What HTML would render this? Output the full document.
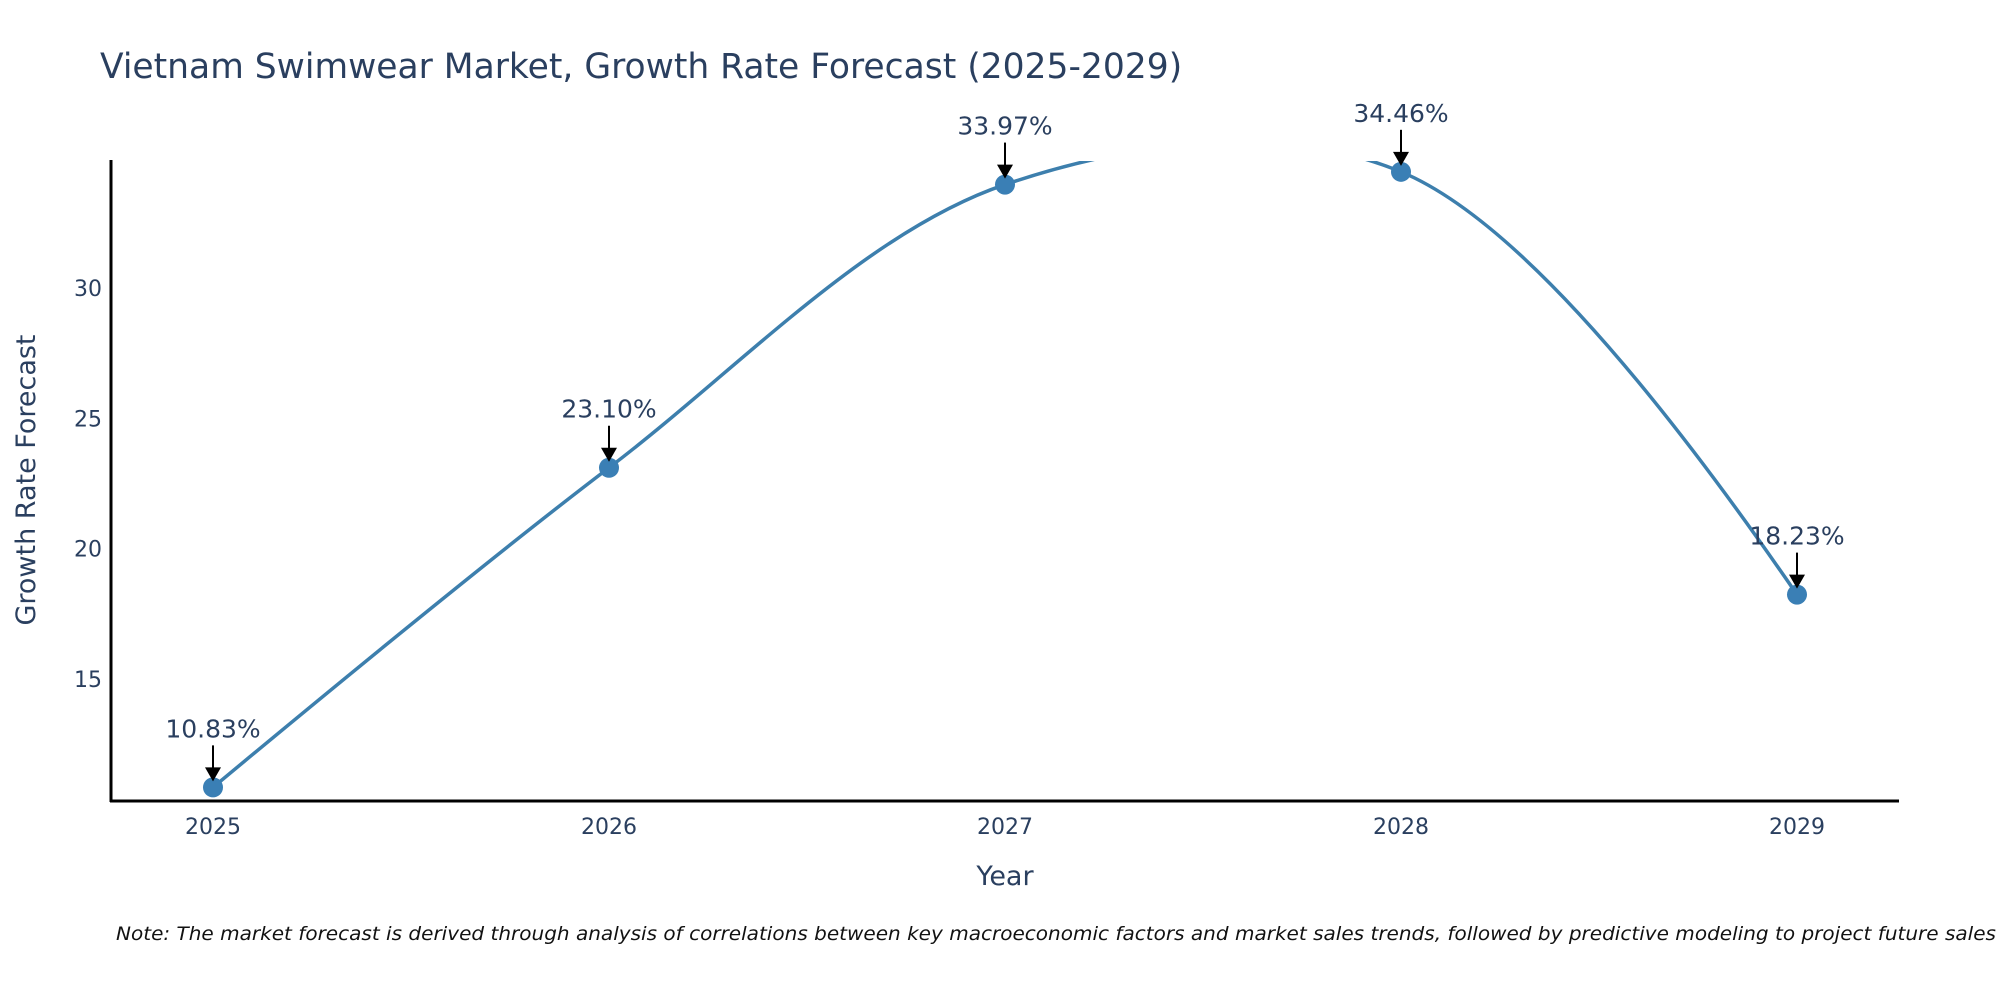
<!DOCTYPE html>
<html><head><meta charset="utf-8"><style>
html,body{margin:0;padding:0;background:#fff;}
svg{display:block;font-family:"DejaVu Sans","Liberation Sans",sans-serif;}
</style></head><body>
<svg id="chart" width="2000" height="1000" viewBox="0 0 2000 1000" xmlns="http://www.w3.org/2000/svg">
<rect width="2000" height="1000" fill="#fff"/>
<text x="100" y="78" font-size="34.5" fill="#2a3f5f">Vietnam Swimwear Market, Growth Rate Forecast (2025-2029)</text>
<defs><clipPath id="plotclip"><rect x="111" y="161" width="1788" height="640"/></clipPath></defs>
<g id="ticks-y"></g>
<g id="ticks-x"></g>
<g clip-path="url(#plotclip)"><path id="line" fill="none" stroke="#3d7fad" stroke-width="3.5"/></g>
<g id="markers"></g>
<g id="annots"></g>
<line x1="111" y1="160" x2="111" y2="802" stroke="#000" stroke-width="3"/>
<line x1="110" y1="801" x2="1899" y2="801" stroke="#000" stroke-width="3"/>
<text x="1005" y="885" font-size="27" fill="#2a3f5f" text-anchor="middle">Year</text>
<text x="0" y="0" font-size="27" fill="#2a3f5f" text-anchor="middle" transform="translate(35,480) rotate(-90)">Growth Rate Forecast</text>
<text x="116" y="940" font-size="19" font-style="italic" fill="#111" textLength="1880" lengthAdjust="spacingAndGlyphs">Note: The market forecast is derived through analysis of correlations between key macroeconomic factors and market sales trends, followed by predictive modeling to project future sales</text>
</svg>
<script>
const years = [2025, 2026, 2027, 2028, 2029];
const growth = [10.83, 23.10, 33.97, 34.46, 18.23];
const labels = ["10.83%", "23.10%", "33.97%", "34.46%", "18.23%"];
const yTicks = [15, 20, 25, 30];

const NS = "http://www.w3.org/2000/svg";
const X0 = 213, XSTEP = 396;
function xs(v){ return X0 + (v - years[0]) * XSTEP; }
function ys(v){ return 288 + (30 - v) * 26.05; }
function mk(tag, attrs, parent){ const e = document.createElementNS(NS, tag); for (const k in attrs) e.setAttribute(k, attrs[k]); parent.appendChild(e); return e; }

const gy = document.getElementById('ticks-y');
yTicks.forEach(t => {
  const e = mk('text', {x: 102, y: ys(t) + 8, 'font-size': 22, fill: '#2a3f5f', 'text-anchor': 'end'}, gy);
  
  
  e.textContent = t;
});
const gx = document.getElementById('ticks-x');
years.forEach(t => {
  const e = mk('text', {x: xs(t), y: 834, 'font-size': 22, fill: '#2a3f5f', 'text-anchor': 'middle'}, gx);
  
  
  e.textContent = t;
});

const pts = years.map((y, i) => [xs(y), ys(growth[i])]);
function tangent(p, c, n, s){
  const d1x = p[0]-c[0], d1y = p[1]-c[1], d2x = n[0]-c[0], d2y = n[1]-c[1];
  const d1a = Math.pow(d1x*d1x + d1y*d1y, 0.25), d2a = Math.pow(d2x*d2x + d2y*d2y, 0.25);
  const numx = (d2a*d2a*d1x - d1a*d1a*d2x)*s, numy = (d2a*d2a*d1y - d1a*d1a*d2y)*s;
  const den1 = 3*d2a*(d1a+d2a), den2 = 3*d1a*(d1a+d2a);
  return [[c[0]+numx/den1, c[1]+numy/den1], [c[0]-numx/den2, c[1]-numy/den2]];
}
const tg = [];
for (let i = 1; i < pts.length-1; i++) tg.push(tangent(pts[i-1], pts[i], pts[i+1], 1));
const f = p => p[0].toFixed(2)+','+p[1].toFixed(2);
let d = 'M'+f(pts[0])+'Q'+f(tg[0][0])+' '+f(pts[1]);
for (let i = 2; i < pts.length-1; i++) d += 'C'+f(tg[i-2][1])+' '+f(tg[i-1][0])+' '+f(pts[i]);
d += 'Q'+f(tg[tg.length-1][1])+' '+f(pts[pts.length-1]);
document.getElementById('line').setAttribute('d', d);

const gm = document.getElementById('markers');
const ga = document.getElementById('annots');
pts.forEach((p, i) => {
  const c = mk('circle', {cx: p[0], cy: p[1], r: 10, fill: '#3a7fb5'}, gm);
  
  
  const a = mk('line', {x1: p[0], y1: p[1]-42, x2: p[0], y2: p[1]-18, stroke: '#000', 'stroke-width': 2}, ga);
  
  
  const h = mk('polygon', {points: (p[0]-8)+','+(p[1]-20)+' '+(p[0]+8)+','+(p[1]-20)+' '+p[0]+','+(p[1]-6), fill: '#000'}, ga);
  
  
  const t = mk('text', {x: p[0], y: p[1]-50, 'font-size': 25, fill: '#2a3f5f', 'text-anchor': 'middle'}, ga);
  
  
  t.textContent = labels[i];
});
</script>
</body></html>
